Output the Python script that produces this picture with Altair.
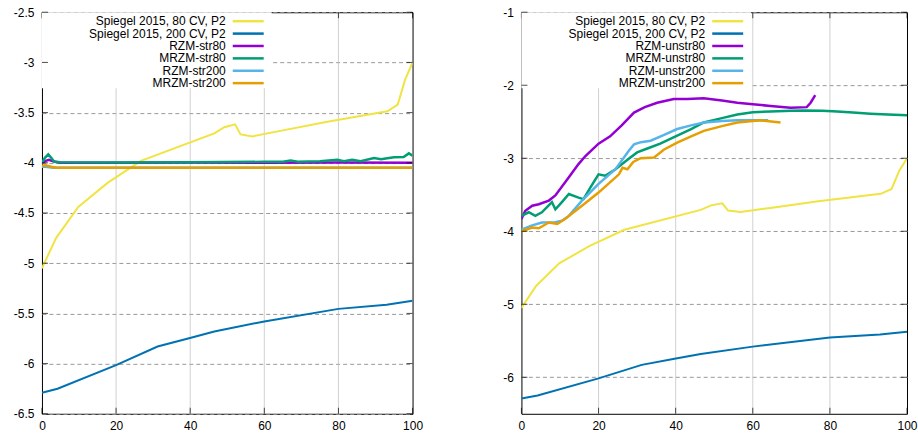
import altair as alt
import pandas as pd

FONT = "Liberation Sans"

# ---------------- data ----------------
x_ticks = [0, 20, 40, 60, 80, 100]
x_grid = [20, 40, 60, 80]
left_y_ticks = [-6.5, -6, -5.5, -5, -4.5, -4, -3.5, -3, -2.5]
right_y_ticks = [-6, -5, -4, -3, -2, -1]

colors = ["#f0e442", "#0072b2", "#9400d3", "#009e73", "#56b4e9", "#e69f00"]
stroke_widths = [2, 2, 2.5, 2.5, 2.5, 2.5]

left_labels = ["Spiegel 2015, 80 CV, P2", "Spiegel 2015, 200 CV, P2",
               "RZM-str80", "MRZM-str80", "RZM-str200", "MRZM-str200"]
right_labels = ["Spiegel 2015, 80 CV, P2", "Spiegel 2015, 200 CV, P2",
                "RZM-unstr80", "MRZM-unstr80", "RZM-unstr200", "MRZM-unstr200"]

spiegel80_x = [0, 3.8, 9.8, 17.7, 26.7, 46.5, 49.2, 52.1, 53.6, 56.8, 65, 77, 93.2, 96, 98, 100]
spiegel80_y = [-5.05, -4.75, -4.44, -4.2, -3.98, -3.707, -3.645, -3.617, -3.717, -3.737,
               -3.677, -3.59, -3.487, -3.42, -3.17, -3.0]

spiegel200_x = [0, 4.2, 20, 31.2, 39.7, 46.5, 60, 80, 93, 100]
spiegel200_y = [-6.29, -6.25, -6.015, -5.83, -5.747, -5.68, -5.58, -5.455, -5.415, -5.375]

rzm_str80_x = [0, 1, 1.9, 3, 5, 20, 40, 60, 80, 100]
rzm_str80_y = [-4.0, -3.98, -3.97, -3.985, -4.0, -4.0, -3.998, -4.0, -3.998, -4.0]

mrzm_str80_x = [0, 0.8, 1.7, 2.5, 3.3, 5, 20, 40, 60, 65, 67.1, 69, 75, 79.7, 81.5, 83.7, 86,
                89.6, 91.5, 93.2, 95, 97.6, 99, 100]
mrzm_str80_y = [-4.0, -3.95, -3.916, -3.95, -3.99, -3.995, -3.998, -3.995, -3.99, -3.99, -3.976,
                -3.99, -3.985, -3.97, -3.985, -3.97, -3.985, -3.953, -3.965, -3.955, -3.945,
                -3.943, -3.906, -3.93]

rzm_str200_x = [0, 1, 3, 100]
rzm_str200_y = [-4.04, -4.04, -4.05, -4.05]

mrzm_str200_x = [0, 1, 2.5, 4, 100]
mrzm_str200_y = [-4.03, -4.025, -4.04, -4.05, -4.05]

rzm_unstr80_x = [0, 1, 2.8, 4.5, 7.1, 8.8, 12.3, 14.8, 16.6, 20, 23, 26, 29.2, 32, 35.2, 39.5,
                 43, 47.3, 52, 56, 60, 64.6, 69.8, 74, 75, 76.2]
rzm_unstr80_y = [-3.83, -3.72, -3.65, -3.63, -3.58, -3.51, -3.26, -3.08, -2.97, -2.8, -2.7,
                 -2.55, -2.375, -2.3, -2.24, -2.19, -2.19, -2.18, -2.21, -2.24, -2.26, -2.284,
                 -2.31, -2.3, -2.24, -2.134]

mrzm_unstr80_x = [0, 1.9, 3.6, 5.3, 7.9, 8.8, 10.5, 12.3, 14.8, 16.1, 17.9, 20, 21.7, 24.4,
                  28, 30, 33, 36, 40.4, 44, 47.3, 52, 56, 60, 64.6, 70, 73.2, 78, 81.9, 86,
                  90.5, 95, 100]
mrzm_unstr80_y = [-3.79, -3.74, -3.79, -3.74, -3.6, -3.7, -3.6, -3.49, -3.54, -3.56, -3.4,
                  -3.22, -3.24, -3.15, -3.0, -2.92, -2.86, -2.8, -2.69, -2.6, -2.51, -2.45,
                  -2.4, -2.37, -2.36, -2.35, -2.345, -2.35, -2.36, -2.375, -2.39, -2.4, -2.41]

rzm_unstr200_x = [0, 2.8, 5.3, 8.8, 10.5, 12.3, 15.7, 20, 24.4, 27.8, 29.2, 31, 33.5, 37, 40.4,
                  44, 47.3, 52, 56, 60, 64]
rzm_unstr200_y = [-3.98, -3.92, -3.88, -3.875, -3.855, -3.79, -3.58, -3.35, -3.15, -2.9, -2.81,
                  -2.78, -2.76, -2.68, -2.6, -2.55, -2.51, -2.49, -2.48, -2.48, -2.48]

mrzm_unstr200_x = [0, 2.8, 4.5, 7.1, 9.3, 11.4, 15.7, 20, 25.3, 26.2, 27.5, 29, 30.9, 34.4, 37,
                   40.4, 44, 47.3, 52, 56, 62, 67.2]
mrzm_unstr200_y = [-4.0, -3.95, -3.96, -3.88, -3.9, -3.83, -3.65, -3.47, -3.22, -3.13, -3.15,
                   -3.05, -3.0, -2.99, -2.88, -2.785, -2.7, -2.625, -2.56, -2.51, -2.48, -2.51]

left_series = [(spiegel80_x, spiegel80_y), (spiegel200_x, spiegel200_y),
               (rzm_str80_x, rzm_str80_y), (mrzm_str80_x, mrzm_str80_y),
               (rzm_str200_x, rzm_str200_y), (mrzm_str200_x, mrzm_str200_y)]
right_series = [(spiegel80_x, spiegel80_y), (spiegel200_x, spiegel200_y),
                (rzm_unstr80_x, rzm_unstr80_y), (mrzm_unstr80_x, mrzm_unstr80_y),
                (rzm_unstr200_x, rzm_unstr200_y), (mrzm_unstr200_x, mrzm_unstr200_y)]

H = 402
TICK = 6
GRID_COLOR = "#999999"
GRID_DASH = [4, 3]
LEGEND_ROW0 = 9
LEGEND_STEP = 12.4


def panel(series, labels, y_domain, y_ticks, width):
    xs = alt.Scale(domain=[0, 100], nice=False, zero=False)
    ys = alt.Scale(domain=y_domain, nice=False, zero=False)
    x_axis = alt.Axis(values=x_ticks, title=None, grid=False, labelFlush=False,
                      labelExpr="datum.value + ''")
    y_axis = alt.Axis(values=y_ticks, title=None, grid=True, labelFlush=False,
                      labelExpr="datum.value + ''")

    def xenc():
        return alt.X("x:Q", scale=xs, axis=x_axis, title=None)

    def yenc():
        return alt.Y("y:Q", scale=ys, axis=y_axis, title=None)

    # vertical grid lines drawn as thin full-height ticks
    xg = pd.DataFrame({"x": x_grid})
    vgrid = alt.Chart(xg).mark_tick(color="#bdbdbd", thickness=1, size=H,
                                    orient="vertical").encode(
        x=xenc(), y=alt.value(H / 2))

    layers = [vgrid]
    for i, (sx, sy) in enumerate(series):
        df = pd.DataFrame({"x": sx, "y": sy})
        layers.append(
            alt.Chart(df).mark_line(color=colors[i], strokeWidth=stroke_widths[i],
                                    clip=True).encode(x=xenc(), y=yenc())
        )
    xt = pd.DataFrame({"x": x_ticks})
    yt = pd.DataFrame({"y": y_ticks})
    top_xticks = alt.Chart(xt).mark_tick(color="black", thickness=1, size=TICK,
                                         orient="vertical").encode(
        x=xenc(), y=alt.value(TICK / 2))
    bot_xticks = alt.Chart(xt).mark_tick(color="black", thickness=1, size=TICK,
                                         orient="vertical").encode(
        x=xenc(), y=alt.value(H - TICK / 2))
    left_yticks = alt.Chart(yt).mark_tick(color="black", thickness=1, size=TICK,
                                          orient="horizontal").encode(
        y=yenc(), x=alt.value(TICK / 2))
    right_yticks = alt.Chart(yt).mark_tick(color="black", thickness=1, size=TICK,
                                           orient="horizontal").encode(
        y=yenc(), x=alt.value(width - TICK / 2))

    box = alt.Chart(pd.DataFrame({"a": [0]})).mark_rect(fill="white").encode(
        x=alt.value(0), x2=alt.value(230), y=alt.value(0), y2=alt.value(76))

    legend_layers = []
    for i, lab in enumerate(labels):
        ld = pd.DataFrame({"label": [lab]})
        ry = LEGEND_ROW0 + i * LEGEND_STEP
        legend_layers.append(
            alt.Chart(ld).mark_rule(strokeWidth=2.5, color=colors[i]).encode(
                x=alt.value(191), x2=alt.value(222), y=alt.value(ry)))
        legend_layers.append(
            alt.Chart(ld).mark_text(align="right", baseline="middle", font=FONT,
                                    fontSize=12, color="black").encode(
                x=alt.value(184), y=alt.value(ry), text="label:N"))

    return alt.layer(*layers, top_xticks, box, left_yticks, right_yticks, bot_xticks,
                     *legend_layers).properties(width=width, height=H)


left = panel(left_series, left_labels, [-6.5, -2.5], left_y_ticks, 371)
right = panel(right_series, right_labels, [-6.5, -1], right_y_ticks, 386)

chart = alt.hconcat(left, right, spacing=109, bounds="flush").properties(
    padding={"left": 12, "top": 5, "right": 0, "bottom": 0}
).configure_view(stroke="black", strokeWidth=1).configure_axis(
    domain=False, ticks=False, tickSize=0, labelPadding=8,
    labelFont=FONT, labelFontSize=12, labelColor="black",
    gridColor=GRID_COLOR, gridDash=GRID_DASH, gridWidth=1, gridOpacity=1,
).configure_axisX(labelPadding=7)

chart.save("out.html", embed_options={"renderer": "svg", "actions": False})
